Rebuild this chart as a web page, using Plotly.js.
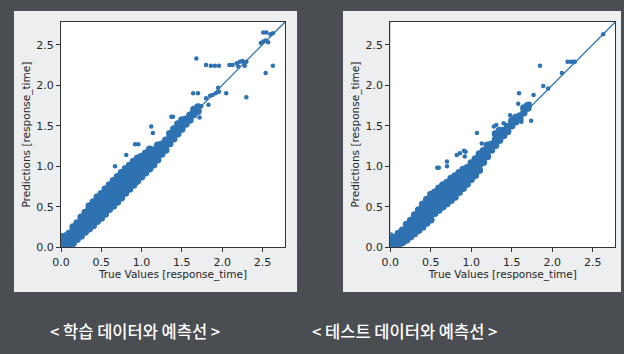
<!DOCTYPE html>
<html>
<head>
<meta charset="utf-8">
<script src="https://cdn.plot.ly/plotly-3.0.1.min.js"></script>
<style>html,body{margin:0;padding:0;background:#4a4d52;}#chart{width:624px;height:354px;}</style>
</head>
<body>
<div id="chart"></div>
<script>
// ---- data ----
const tickVals = [0, 0.5, 1.0, 1.5, 2.0, 2.5];
const tickText = ['0.0', '0.5', '1.0', '1.5', '2.0', '2.5'];
const diagX = [0, 2.8];
const diagY = [0, 2.8];
const captions = ['< 학습 데이터와 예측선 >', '< 테스트 데이터와 예측선 >'];
const xTitle = 'True Values [response_time]';
const yTitle = 'Predictions [response_time]';

// training set: dense band (true value, prediction)
const trainBand = [
 [0.00,0.03],[0.00,0.08],[0.00,0.13],
 [0.02,0.01],[0.02,0.05],[0.02,0.10],
 [0.06,0.02],[0.06,0.06],[0.06,0.10],[0.06,0.14],
 [0.10,0.03],[0.10,0.08],[0.10,0.13],[0.10,0.17],
 [0.15,0.05],[0.15,0.10],[0.15,0.15],[0.15,0.20],[0.15,0.25],
 [0.20,0.10],[0.20,0.15],[0.20,0.20],[0.20,0.25],[0.20,0.30],
 [0.25,0.14],[0.25,0.20],[0.25,0.26],[0.25,0.32],[0.25,0.37],
 [0.30,0.19],[0.30,0.25],[0.30,0.31],[0.30,0.37],[0.30,0.43],
 [0.35,0.23],[0.35,0.29],[0.35,0.35],[0.35,0.41],[0.35,0.47],[0.35,0.51],
 [0.40,0.27],[0.40,0.33],[0.40,0.39],[0.40,0.45],[0.40,0.51],[0.40,0.56],
 [0.45,0.32],[0.45,0.38],[0.45,0.44],[0.45,0.50],[0.45,0.56],[0.45,0.62],
 [0.50,0.36],[0.50,0.42],[0.50,0.48],[0.50,0.54],[0.50,0.60],[0.50,0.66],
 [0.55,0.41],[0.55,0.47],[0.55,0.53],[0.55,0.59],[0.55,0.65],[0.55,0.72],
 [0.60,0.47],[0.60,0.53],[0.60,0.59],[0.60,0.65],[0.60,0.71],[0.60,0.77],
 [0.65,0.51],[0.65,0.57],[0.65,0.63],[0.65,0.69],[0.65,0.75],[0.65,0.82],
 [0.70,0.56],[0.70,0.62],[0.70,0.68],[0.70,0.74],[0.70,0.80],[0.70,0.87],
 [0.75,0.61],[0.75,0.67],[0.75,0.73],[0.75,0.79],[0.75,0.85],[0.75,0.92],
 [0.80,0.67],[0.80,0.73],[0.80,0.79],[0.80,0.85],[0.80,0.91],[0.80,0.97],
 [0.85,0.72],[0.85,0.78],[0.85,0.84],[0.85,0.90],[0.85,0.96],[0.85,1.01],
 [0.90,0.77],[0.90,0.83],[0.90,0.89],[0.90,0.95],[0.90,1.01],[0.90,1.06],
 [0.95,0.82],[0.95,0.88],[0.95,0.94],[0.95,1.00],[0.95,1.06],[0.95,1.10],
 [1.00,0.87],[1.00,0.93],[1.00,0.99],[1.00,1.05],[1.00,1.12],
 [1.05,0.92],[1.05,0.98],[1.05,1.04],[1.05,1.10],[1.05,1.16],
 [1.10,0.97],[1.10,1.03],[1.10,1.09],[1.10,1.15],[1.10,1.21],
 [1.15,1.02],[1.15,1.08],[1.15,1.14],[1.15,1.20],
 [1.20,1.08],[1.20,1.14],[1.20,1.20],[1.20,1.26],
 [1.25,1.15],[1.25,1.21],[1.25,1.27],
 [1.30,1.20],[1.30,1.26],[1.30,1.32],
 [1.35,1.28],[1.35,1.34],[1.35,1.40],
 [1.40,1.34],[1.40,1.40],[1.40,1.46],
 [1.45,1.40],[1.45,1.46],[1.45,1.52],
 [1.50,1.46],[1.50,1.52],[1.50,1.57],
 [1.55,1.52],[1.55,1.58],
 [1.60,1.57],[1.60,1.63],
 [1.65,1.64],[1.65,1.70],
 [1.70,1.68],[1.70,1.73]
];
// training set: scattered points
const trainSparse = [
 [0.67,1.00],[0.81,1.14],[0.92,1.27],[0.96,1.27],[0.94,0.79],[1.12,1.49],[1.14,1.41],
 [1.37,1.61],[1.39,1.61],[1.52,1.58],[1.62,1.66],[1.66,1.70],[1.72,1.60],[1.74,1.74],
 [1.64,1.90],[1.70,1.90],[1.83,1.76],[1.80,1.84],[1.85,1.87],[1.88,1.88],[1.92,1.90],
 [1.96,1.92],[2.05,1.90],[1.95,1.97],[1.68,2.33],[1.80,2.25],[1.86,2.24],[1.91,2.24],
 [1.96,2.24],[2.09,2.25],[2.13,2.25],[2.18,2.27],[2.22,2.29],[2.25,2.30],[2.27,2.28],
 [2.30,2.29],[2.20,2.23],[2.28,2.24],[2.30,1.85],[2.48,2.52],[2.51,2.54],[2.54,2.55],
 [2.57,2.53],[2.51,2.65],[2.55,2.65],[2.60,2.63],[2.63,2.64],[2.54,2.15],[2.63,2.24]
];

// test set: dense band
const testBand = [
 [0.00,0.04],[0.00,0.09],[0.00,0.14],
 [0.02,0.02],[0.02,0.06],[0.02,0.10],
 [0.06,0.03],[0.06,0.07],[0.06,0.12],
 [0.10,0.03],[0.10,0.08],[0.10,0.13],[0.10,0.17],
 [0.15,0.06],[0.15,0.11],[0.15,0.16],[0.15,0.21],
 [0.20,0.09],[0.20,0.15],[0.20,0.21],[0.20,0.28],
 [0.25,0.13],[0.25,0.19],[0.25,0.25],[0.25,0.33],
 [0.30,0.17],[0.30,0.23],[0.30,0.29],[0.30,0.35],[0.30,0.40],
 [0.35,0.21],[0.35,0.27],[0.35,0.33],[0.35,0.39],[0.35,0.46],
 [0.40,0.25],[0.40,0.31],[0.40,0.37],[0.40,0.43],[0.40,0.49],[0.40,0.53],
 [0.45,0.30],[0.45,0.36],[0.45,0.42],[0.45,0.48],[0.45,0.54],[0.45,0.59],
 [0.50,0.34],[0.50,0.40],[0.50,0.46],[0.50,0.52],[0.50,0.58],[0.50,0.65],
 [0.55,0.42],[0.55,0.48],[0.55,0.54],[0.55,0.60],[0.55,0.68],
 [0.60,0.46],[0.60,0.52],[0.60,0.58],[0.60,0.64],[0.60,0.73],
 [0.65,0.50],[0.65,0.56],[0.65,0.62],[0.65,0.68],[0.65,0.77],
 [0.70,0.54],[0.70,0.60],[0.70,0.66],[0.70,0.72],[0.70,0.80],
 [0.75,0.58],[0.75,0.64],[0.75,0.70],[0.75,0.76],[0.75,0.85],
 [0.80,0.62],[0.80,0.68],[0.80,0.74],[0.80,0.80],[0.80,0.88],
 [0.85,0.68],[0.85,0.74],[0.85,0.80],[0.85,0.86],[0.85,0.92],
 [0.90,0.73],[0.90,0.79],[0.90,0.85],[0.90,0.91],[0.90,0.96],
 [0.95,0.78],[0.95,0.84],[0.95,0.90],[0.95,0.98],
 [1.00,0.84],[1.00,0.90],[1.00,0.96],[1.00,1.04],
 [1.05,0.89],[1.05,0.95],[1.05,1.02],[1.05,1.09],
 [1.10,0.95],[1.10,1.02],[1.10,1.09],[1.10,1.15],
 [1.15,1.05],[1.15,1.12],[1.15,1.19],
 [1.20,1.12],[1.20,1.20],[1.20,1.26],
 [1.25,1.20],[1.25,1.27],
 [1.30,1.26],[1.30,1.33],[1.30,1.40],
 [1.35,1.32],[1.35,1.38],[1.35,1.44],
 [1.40,1.38],[1.40,1.44],
 [1.45,1.43],[1.45,1.49],
 [1.50,1.50],[1.50,1.56],
 [1.55,1.55],[1.55,1.60],
 [1.60,1.58],[1.60,1.62],
 [1.65,1.66],[1.65,1.72],
 [1.70,1.72],[1.70,1.75]
];
// test set: scattered points
const testSparse = [
 [0.58,0.98],[0.60,0.98],[0.70,1.00],[0.70,1.06],[0.82,1.14],[0.86,1.16],[0.91,1.19],
 [0.92,1.12],[0.93,1.18],[1.07,1.41],[1.13,1.28],[1.28,1.49],[1.31,1.51],[1.40,1.53],
 [1.48,1.63],[1.62,1.55],[1.59,1.90],[1.58,1.77],[1.74,1.56],[1.68,1.76],[1.72,1.77],
 [1.77,1.88],[1.85,2.24],[1.89,1.99],[1.95,1.96],[2.12,2.15],[2.19,2.29],[2.23,2.29],
 [2.26,2.29],[2.28,2.29],[2.63,2.63]
];

// ---- drawing ----
const blue = '#2f72b2';
const xs = a => a.map(p => p[0]);
const ys = a => a.map(p => p[1]);

function pts(arr, xa, ya, size) {
  return {type: 'scatter', mode: 'markers', x: xs(arr), y: ys(arr), xaxis: xa, yaxis: ya,
    marker: {color: blue, size: size, opacity: 1, line: {width: 0}}, hoverinfo: 'skip', showlegend: false, cliponaxis: true};
}
function diag(xa, ya) {
  return {type: 'scatter', mode: 'lines', x: diagX, y: diagY, xaxis: xa, yaxis: ya,
    line: {color: blue, width: 1.3}, hoverinfo: 'skip', showlegend: false};
}

const data = [
  pts(trainBand, 'x', 'y', 7.5), pts(trainSparse, 'x', 'y', 4.5), diag('x', 'y'),
  pts(testBand, 'x2', 'y2', 7.5), pts(testSparse, 'x2', 'y2', 4.5), diag('x2', 'y2')
];

const tickFont = {family: 'DejaVu Sans, sans-serif', size: 11, color: '#262626'};
function ax(domain, anchor, title) {
  return {domain: domain, anchor: anchor, range: [0, 2.78], tickvals: tickVals, ticktext: tickText,
    ticks: 'outside', ticklen: 4, tickwidth: 1, tickcolor: '#333', showline: true, mirror: true,
    linecolor: '#333', linewidth: 1, showgrid: false, zeroline: false, fixedrange: true,
    tickfont: tickFont,
    title: {text: title, font: {family: 'DejaVu Sans, sans-serif', size: 10.5, color: '#262626'}, standoff: 3}};
}

// light panel frame with a hole where the (white) plot area is
function framePath(o, i) {
  return 'M' + o[0] + ',' + o[2] + ' L' + o[1] + ',' + o[2] + ' L' + o[1] + ',' + o[3] + ' L' + o[0] + ',' + o[3] + ' Z ' +
         'M' + i[0] + ',' + i[2] + ' L' + i[0] + ',' + i[3] + ' L' + i[1] + ',' + i[3] + ' L' + i[1] + ',' + i[2] + ' Z';
}
const panelStyle = {type: 'path', xref: 'paper', yref: 'paper', fillcolor: '#eceef0', line: {width: 0}, layer: 'below'};

const layout = {
  width: 624, height: 354,
  margin: {l: 0, r: 0, t: 0, b: 0},
  paper_bgcolor: '#4a4d52', plot_bgcolor: '#ffffff',
  showlegend: false,
  xaxis: ax([0.0978, 0.4567], 'y', xTitle),
  yaxis: ax([0.3014, 0.9379], 'x', yTitle),
  xaxis2: ax([0.6255, 0.9861], 'y2', xTitle),
  yaxis2: ax([0.3014, 0.9379], 'x2', yTitle),
  shapes: [
    Object.assign({}, panelStyle, {path: framePath([0.0224, 0.476, 0.1751, 0.9689], [0.0978, 0.4567, 0.3014, 0.9379])}),
    Object.assign({}, panelStyle, {path: framePath([0.5497, 0.9952, 0.1751, 0.9689], [0.6255, 0.9861, 0.3014, 0.9379])})
  ],
  annotations: [
    {text: captions[0], xref: 'paper', yref: 'paper', x: 0.2163, y: 0.0636, xanchor: 'center', yanchor: 'middle',
     showarrow: false, font: {family: 'Noto Sans CJK KR', size: 16.5, color: '#ffffff', weight: 500}},
    {text: captions[1], xref: 'paper', yref: 'paper', x: 0.649, y: 0.0636, xanchor: 'center', yanchor: 'middle',
     showarrow: false, font: {family: 'Noto Sans CJK KR', size: 16.5, color: '#ffffff', weight: 500}}
  ]
};

Plotly.newPlot('chart', data, layout, {staticPlot: true, displayModeBar: false});
</script>
</body>
</html>
